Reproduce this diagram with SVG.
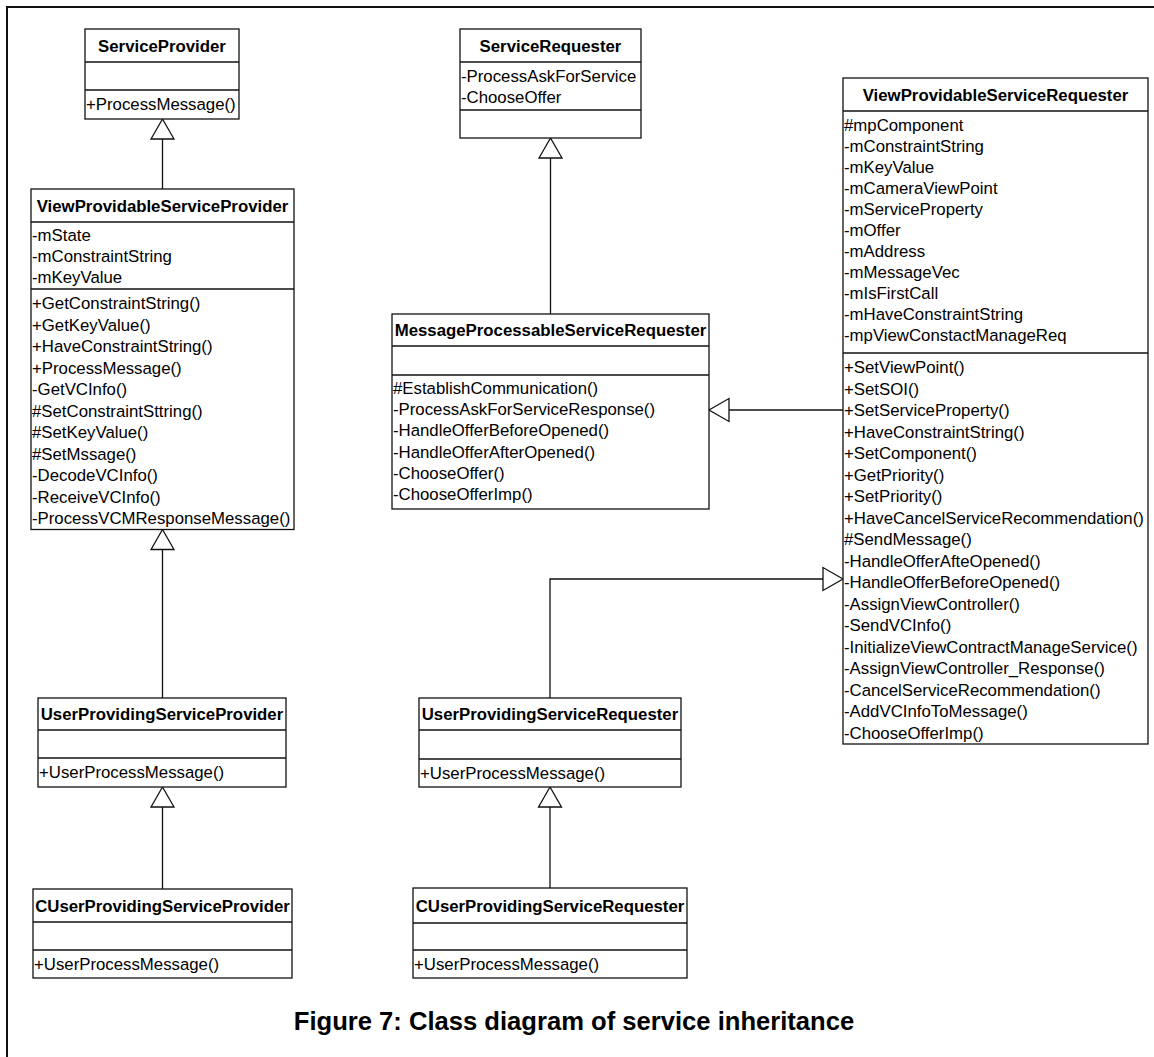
<svg xmlns="http://www.w3.org/2000/svg" width="1154" height="1057" viewBox="0 0 1154 1057">
  <style>
    .box { fill: #ffffff; stroke: #111111; stroke-width: 1.3; }
    .div { stroke: #111111; stroke-width: 1.3; }
    .t { font-family: "Liberation Sans", Arial, sans-serif; font-size: 16.8px; fill: #000000; }
    .n { font-weight: bold; text-anchor: middle; }
    .edge { fill: none; stroke: #111111; stroke-width: 1.3; }
    .head { fill: #ffffff; stroke: #111111; stroke-width: 1.3; stroke-linejoin: miter; }
    .title { font-family: "Liberation Sans", Arial, sans-serif; font-size: 25.6px; font-weight: bold; text-anchor: middle; fill: #000000; }
  </style>
  <rect width="1154" height="1057" fill="#ffffff"/>
  <!-- page frame (top and left edges) -->
  <path d="M7,1057 V7 H1154" fill="none" stroke="#111111" stroke-width="2"/>

  <!-- generalisation connectors -->
  <g id="connectors">
    <!-- ViewProvidableServiceProvider -> ServiceProvider -->
    <line class="edge" x1="162.5" y1="189" x2="162.5" y2="139"/>
    <polygon class="head" points="162.5,119 151,139 174,139"/>
    <!-- MessageProcessableServiceRequester -> ServiceRequester -->
    <line class="edge" x1="550.5" y1="314" x2="550.5" y2="158"/>
    <polygon class="head" points="550.5,138 539,158 562,158"/>
    <!-- ViewProvidableServiceRequester -> MessageProcessableServiceRequester -->
    <line class="edge" x1="843" y1="410" x2="729" y2="410"/>
    <polygon class="head" points="709,410 729,398.5 729,421.5"/>
    <!-- UserProvidingServiceProvider -> ViewProvidableServiceProvider -->
    <line class="edge" x1="162.5" y1="698" x2="162.5" y2="549.5"/>
    <polygon class="head" points="162.5,529.5 151,549.5 174,549.5"/>
    <!-- CUserProvidingServiceProvider -> UserProvidingServiceProvider -->
    <line class="edge" x1="162.5" y1="889" x2="162.5" y2="807"/>
    <polygon class="head" points="162.5,787 151,807 174,807"/>
    <!-- UserProvidingServiceRequester -> ViewProvidableServiceRequester -->
    <polyline class="edge" points="550,698 550,579 823,579"/>
    <polygon class="head" points="843,579 823,567.5 823,590.5"/>
    <!-- CUserProvidingServiceRequester -> UserProvidingServiceRequester -->
    <line class="edge" x1="550" y1="888" x2="550" y2="807"/>
    <polygon class="head" points="550,787 538.5,807 561.5,807"/>
  </g>

  <g id="ServiceProvider">
    <rect class="box" x="85" y="29" width="154" height="90"/>
    <line class="div" x1="85" y1="62" x2="239" y2="62"/>
    <line class="div" x1="85" y1="90" x2="239" y2="90"/>
    <text class="t n" x="162" y="51.5">ServiceProvider</text>
    <text class="t" x="86" y="110">+ProcessMessage()</text>
  </g>

  <g id="ServiceRequester">
    <rect class="box" x="460" y="29" width="181" height="109"/>
    <line class="div" x1="460" y1="62" x2="641" y2="62"/>
    <line class="div" x1="460" y1="110" x2="641" y2="110"/>
    <text class="t n" x="550.5" y="51.5">ServiceRequester</text>
    <text class="t" x="461" y="82">-ProcessAskForService</text>
    <text class="t" x="461" y="103">-ChooseOffer</text>
  </g>

  <g id="ViewProvidableServiceProvider">
    <rect class="box" x="31" y="189" width="263" height="340.5"/>
    <line class="div" x1="31" y1="222" x2="294" y2="222"/>
    <line class="div" x1="31" y1="289" x2="294" y2="289"/>
    <text class="t n" x="162.5" y="211.5">ViewProvidableServiceProvider</text>
    <text class="t" x="32" y="241">-mState</text>
    <text class="t" x="32" y="262">-mConstraintString</text>
    <text class="t" x="32" y="283">-mKeyValue</text>
    <text class="t" x="32" y="309.3">+GetConstraintString()</text>
    <text class="t" x="32" y="330.8">+GetKeyValue()</text>
    <text class="t" x="32" y="352.3">+HaveConstraintString()</text>
    <text class="t" x="32" y="373.8">+ProcessMessage()</text>
    <text class="t" x="32" y="395.3">-GetVCInfo()</text>
    <text class="t" x="32" y="416.8">#SetConstraintSttring()</text>
    <text class="t" x="32" y="438.3">#SetKeyValue()</text>
    <text class="t" x="32" y="459.8">#SetMssage()</text>
    <text class="t" x="32" y="481.3">-DecodeVCInfo()</text>
    <text class="t" x="32" y="502.8">-ReceiveVCInfo()</text>
    <text class="t" x="32" y="524.3">-ProcessVCMResponseMessage()</text>
  </g>

  <g id="MessageProcessableServiceRequester">
    <rect class="box" x="392" y="314" width="317" height="195"/>
    <line class="div" x1="392" y1="346" x2="709" y2="346"/>
    <line class="div" x1="392" y1="375" x2="709" y2="375"/>
    <text class="t n" x="550.5" y="336">MessageProcessableServiceRequester</text>
    <text class="t" x="393" y="394">#EstablishCommunication()</text>
    <text class="t" x="393" y="415.2">-ProcessAskForServiceResponse()</text>
    <text class="t" x="393" y="436.4">-HandleOfferBeforeOpened()</text>
    <text class="t" x="393" y="457.6">-HandleOfferAfterOpened()</text>
    <text class="t" x="393" y="478.8">-ChooseOffer()</text>
    <text class="t" x="393" y="500">-ChooseOfferImp()</text>
  </g>

  <g id="ViewProvidableServiceRequester">
    <rect class="box" x="843" y="78" width="305" height="666"/>
    <line class="div" x1="843" y1="111" x2="1148" y2="111"/>
    <line class="div" x1="843" y1="353" x2="1148" y2="353"/>
    <text class="t n" x="995.5" y="100.5">ViewProvidableServiceRequester</text>
    <text class="t" x="844" y="131">#mpComponent</text>
    <text class="t" x="844" y="152">-mConstraintString</text>
    <text class="t" x="844" y="173">-mKeyValue</text>
    <text class="t" x="844" y="194">-mCameraViewPoint</text>
    <text class="t" x="844" y="215">-mServiceProperty</text>
    <text class="t" x="844" y="236">-mOffer</text>
    <text class="t" x="844" y="257">-mAddress</text>
    <text class="t" x="844" y="278">-mMessageVec</text>
    <text class="t" x="844" y="299">-mIsFirstCall</text>
    <text class="t" x="844" y="320">-mHaveConstraintString</text>
    <text class="t" x="844" y="341">-mpViewConstactManageReq</text>
    <text class="t" x="844" y="373">+SetViewPoint()</text>
    <text class="t" x="844" y="394.5">+SetSOI()</text>
    <text class="t" x="844" y="416">+SetServiceProperty()</text>
    <text class="t" x="844" y="437.5">+HaveConstraintString()</text>
    <text class="t" x="844" y="459">+SetComponent()</text>
    <text class="t" x="844" y="480.5">+GetPriority()</text>
    <text class="t" x="844" y="502">+SetPriority()</text>
    <text class="t" x="844" y="523.5">+HaveCancelServiceRecommendation()</text>
    <text class="t" x="844" y="545">#SendMessage()</text>
    <text class="t" x="844" y="566.5">-HandleOfferAfteOpened()</text>
    <text class="t" x="844" y="588">-HandleOfferBeforeOpened()</text>
    <text class="t" x="844" y="609.5">-AssignViewController()</text>
    <text class="t" x="844" y="631">-SendVCInfo()</text>
    <text class="t" x="844" y="652.5">-InitializeViewContractManageService()</text>
    <text class="t" x="844" y="674">-AssignViewController_Response()</text>
    <text class="t" x="844" y="695.5">-CancelServiceRecommendation()</text>
    <text class="t" x="844" y="717">-AddVCInfoToMessage()</text>
    <text class="t" x="844" y="738.5">-ChooseOfferImp()</text>
  </g>

  <g id="UserProvidingServiceProvider">
    <rect class="box" x="38" y="698" width="248" height="89"/>
    <line class="div" x1="38" y1="730" x2="286" y2="730"/>
    <line class="div" x1="38" y1="758" x2="286" y2="758"/>
    <text class="t n" x="162" y="720">UserProvidingServiceProvider</text>
    <text class="t" x="39" y="778">+UserProcessMessage()</text>
  </g>

  <g id="CUserProvidingServiceProvider">
    <rect class="box" x="33" y="889" width="259" height="89"/>
    <line class="div" x1="33" y1="922" x2="292" y2="922"/>
    <line class="div" x1="33" y1="950" x2="292" y2="950"/>
    <text class="t n" x="162.5" y="911.5">CUserProvidingServiceProvider</text>
    <text class="t" x="34" y="970">+UserProcessMessage()</text>
  </g>

  <g id="UserProvidingServiceRequester">
    <rect class="box" x="419" y="698" width="262" height="89"/>
    <line class="div" x1="419" y1="730" x2="681" y2="730"/>
    <line class="div" x1="419" y1="759" x2="681" y2="759"/>
    <text class="t n" x="550" y="720">UserProvidingServiceRequester</text>
    <text class="t" x="420" y="779">+UserProcessMessage()</text>
  </g>

  <g id="CUserProvidingServiceRequester">
    <rect class="box" x="413" y="888" width="274" height="90"/>
    <line class="div" x1="413" y1="923" x2="687" y2="923"/>
    <line class="div" x1="413" y1="950" x2="687" y2="950"/>
    <text class="t n" x="550" y="911.5">CUserProvidingServiceRequester</text>
    <text class="t" x="414" y="970">+UserProcessMessage()</text>
  </g>

  <text class="title" x="574" y="1030">Figure 7: Class diagram of service inheritance</text>
</svg>
